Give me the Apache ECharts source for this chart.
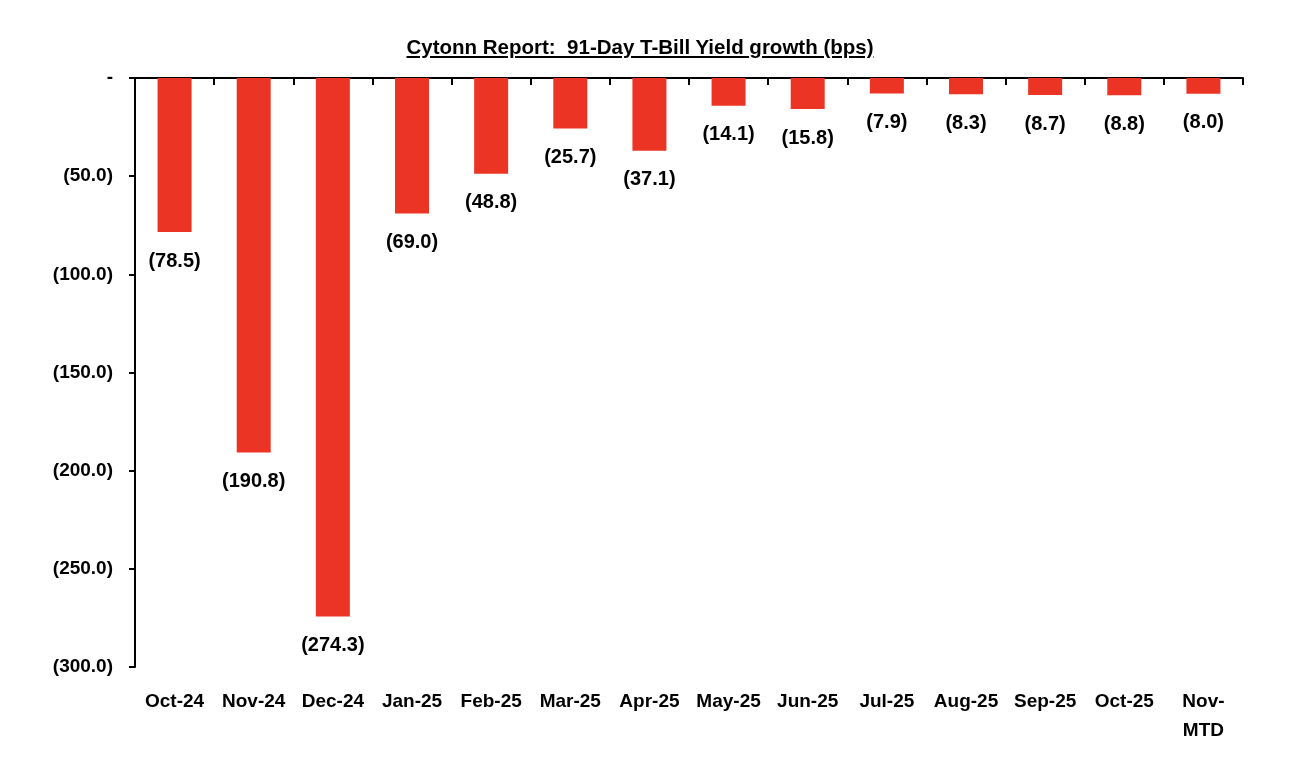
<!DOCTYPE html>
<html>
<head>
<meta charset="utf-8">
<script src="https://cdn.jsdelivr.net/npm/echarts@6/dist/echarts.min.js"></script>
<style>
html,body{margin:0;padding:0;background:#fff;}
#wrap{position:relative;width:1308px;height:770px;}
#chart{width:1308px;height:770px;}
#title{position:absolute;left:640px;top:35px;transform:translateX(-50%);font-family:"Liberation Sans",Arial,sans-serif;font-weight:bold;font-size:20.5px;text-decoration:underline;color:#000;white-space:pre;}
</style>
</head>
<body>
<div id="wrap">
<div id="chart"></div>
<div id="title">Cytonn Report:  91-Day T-Bill Yield growth (bps)</div>
</div>
<script>
const categories = ['Oct-24','Nov-24','Dec-24','Jan-25','Feb-25','Mar-25','Apr-25','May-25','Jun-25','Jul-25','Aug-25','Sep-25','Oct-25','Nov-\nMTD'];
const yieldGrowth = [-78.5,-190.8,-274.3,-69.0,-48.8,-25.7,-37.1,-14.1,-15.8,-7.9,-8.3,-8.7,-8.8,-8.0];
const fmt = v => v === 0 ? '-' : '(' + Math.abs(v).toFixed(1) + ')';
const FONT = '"Liberation Sans", Arial, sans-serif';
const chart = echarts.init(document.getElementById('chart'));
chart.setOption({
  animation:false,
  backgroundColor:'#fff',
  grid:{left:135,right:65,top:78,bottom:103},
  xAxis:[{
    type:'category',data:categories,position:'bottom',
    axisLine:{show:false},axisTick:{show:false},
    axisLabel:{color:'#000',fontFamily:FONT,fontWeight:'bold',fontSize:19,margin:20,lineHeight:29,interval:0}
  },{
    type:'category',data:categories,position:'top',
    axisLine:{show:true,lineStyle:{color:'#000',width:2}},
    axisTick:{show:true,inside:true,length:7,lineStyle:{color:'#000',width:2}},
    axisLabel:{show:false}
  }],
  yAxis:{
    type:'value',min:-300,max:0,interval:50,
    axisLine:{show:true,lineStyle:{color:'#000',width:2}},
    axisTick:{show:true,length:6,lineStyle:{color:'#000',width:2}},
    splitLine:{show:false},
    axisLabel:{color:'#000',fontFamily:FONT,fontWeight:'bold',fontSize:19,margin:22,formatter:fmt}
  },
  series:[{
    type:'bar',data:yieldGrowth,barWidth:34,xAxisIndex:0,
    itemStyle:{color:'#EC3424'},
    label:{show:true,position:'bottom',distance:19,color:'#000',fontFamily:FONT,fontWeight:'bold',fontSize:20,formatter:p=>fmt(p.value)}
  }]
});
</script>
</body>
</html>
